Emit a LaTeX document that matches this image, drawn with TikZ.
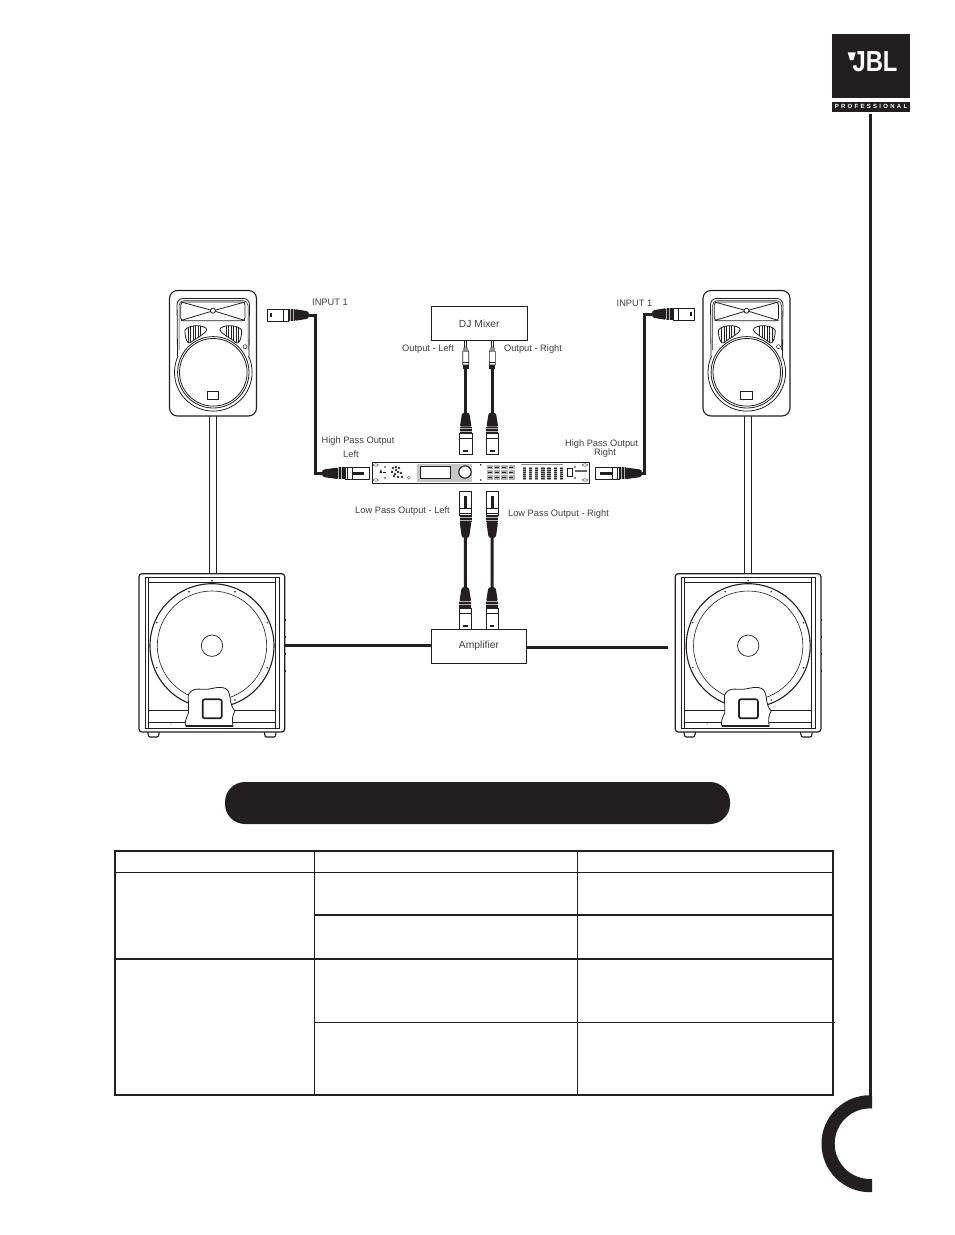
\documentclass[tikz,border=0pt]{standalone}
\usepackage{fontspec}
\setmainfont{Liberation Sans}
\definecolor{ink}{HTML}{231F20}
\definecolor{txt}{HTML}{404040}
\tikzset{
  x=1pt,y=-1pt,
  lbl/.style={font=\fontsize{9.3}{11}\selectfont,text=txt,inner sep=0pt,align=center},
  boxnode/.style={draw=ink,line width=1pt,fill=white,minimum width=95.5pt,minimum height=34pt,inner sep=0pt,font=\fontsize{10.3}{12}\selectfont,text=txt},
  cable/.style={draw=ink,line width=3pt},
  thin1/.style={draw=ink,line width=.8pt},
  rule/.style={draw=ink,line width=1.2pt},
  ruleb/.style={draw=ink,line width=2pt},
  grille/.pic={
    \def\grl{plot[smooth cycle,tension=.7] coordinates {(185,333.3) (186.7,328.3) (195,325.7) (203.3,326.7) (206.7,330) (201.7,335) (195,339.3) (188.3,342.7)}}
    \draw[thin1] \grl;
    \begin{scope}
      \clip \grl;
      \foreach \g in {188,190.5,193,195.5,198,200.5}{\draw[ink,line width=.8pt] (\g,324)--(\g,344);}
    \end{scope}
  },
  topbox/.pic={
    \draw[ink,line width=1.1pt,fill=white,rounded corners=8pt] (169.5,290.5) rectangle (256.5,416);
    \draw[thin1,rounded corners=6pt] (177.5,356)--(177,298.5)--(249.5,298.5)--(249,356);
    \draw[ink,line width=.5pt,rounded corners=5pt] (179,350)--(179,300.5)--(248,300.5)--(248,350);
    \draw[thin1,rounded corners=3pt] (180.7,302) rectangle (245,320.7);
    \draw[thin1] (181,302)--(213.3,310.7)--(245,302) (181,320.5)--(213.3,310.7)--(245,320.5);
    \draw[thin1,fill=white] (213,310.7) circle[radius=2.5];
    \path (0,0) pic {grille};
    \path (426.6,0) pic[xscale=-1] {grille};
    \begin{scope}
      \clip (170,356) rectangle (256,416);
      \draw[thin1] (213.3,372.3) circle[radius=38.8];
    \end{scope}
    \draw[thin1,fill=white] (213.3,372.3) circle[radius=35.7];
    \draw[thin1] (213.3,372.3) circle[radius=33.8];
    \draw[ink,line width=.8pt] (207.3,391) rectangle (218.7,399.3);
    \draw[ink,line width=.5pt] (245,346.7) circle[radius=2];
  },
  sub/.pic={
    \draw[ink,line width=1.1pt,fill=white] (147.7,732) -- (148.5,736) -- (150,737) -- (157,737) -- (158.5,736) -- (159.3,732);
    \draw[ink,line width=1.1pt,fill=white] (264.3,732) -- (265,736) -- (266.5,737) -- (274,737) -- (275.5,736) -- (276,732);
    \draw[ink,line width=1.2pt,fill=white,rounded corners=3pt] (139,573.7) rectangle (284.7,732);
    \draw[thin1] (145,577) rectangle (279.3,728);
    \draw[thin1] (148.3,577)--(148.3,728) (275.3,577)--(275.3,728);
    \draw[thin1] (148.3,582.3)--(275.3,582.3) (148.3,722.3)--(275.3,722.3);
    \draw[ink,line width=.9pt] (148.3,710)--(275.3,710);
    \draw[ink,line width=1.1pt] (212,645.7) circle[radius=62];
    \draw[ink,line width=.6pt] (212,645.7) circle[radius=54.7];
    \draw[ink,line width=.7pt] (212,645.7) circle[radius=10.7];
    \foreach \sx/\sy in {212/580.7,189/591.7,235/591.7,156.7/622.7,267.3/622.7,156.7/667.7,267.3/667.7,235/700}{
      \fill[ink] (\sx,\sy) circle[radius=.8];}
    \foreach \sy in {620,637.3,654.3,671}{\fill[ink] (285,\sy-1) rectangle (286,\sy+1);}
    \fill[ink] (171,724) circle[radius=.5];
    \draw[ink,line width=.8pt,fill=white] (188.3,695) .. controls (192,688) and (197,689) .. (203,689.3) .. controls (210,690) and (216,686.5) .. (222,687.5) .. controls (228,688) and (229,692) .. (230,697) .. controls (230.5,703) and (232,708) .. (235,711) .. controls (232,716) and (232,720) .. (233,726.3) -- (186,726.3) .. controls (184,724) and (186,718) .. (188.5,713) .. controls (189,708) and (188,700) .. (188.3,695) -- cycle;
    \draw[ink,line width=1.7pt,fill=white,rounded corners=2pt] (202.7,699.3) rectangle (221.7,718.3);
    \draw[ink,line width=1.7pt] (186,726.3)--(233,726.3);
  },
  xlrm/.pic={
    \fill[ink,rounded corners=1pt] (0,-2) -- (1.5,-3.8) -- (14,-5.8) -- (14,5.8) -- (1.5,3.8) -- (0,2) -- cycle;
    \fill[black!30] (14,-6) rectangle (21,6);
    \foreach \g in {14.8,16.3,17.8,19.3,20.5}{\draw[ink,line width=.45pt] (\g,-6)--(\g,6);}
    \draw[ink,line width=.6pt,fill=white] (21,-6.2) rectangle (26,6.2);
    \draw[ink,line width=.6pt,fill=white] (26,-6.2) rectangle (42,6.2);
    \fill[ink] (37.5,-2.3) rectangle (39.5,2.3);
  },
  xlrf/.pic={
    \fill[ink,rounded corners=1pt] (0,-2) -- (1.5,-3.8) -- (16,-5.8) -- (16,5.8) -- (1.5,3.8) -- (0,2) -- cycle;
    \fill[black!30] (16,-6) rectangle (23,6);
    \foreach \g in {16.8,18.3,19.8,21.3,22.5}{\draw[ink,line width=.45pt] (\g,-6)--(\g,6);}
    \draw[ink,line width=.6pt,fill=white] (23,-6.2) rectangle (47,6.2);
    \draw[ink,line width=.6pt] (25,-6.2)--(25,6.2) (30,-6.2)--(30,6.2);
    \fill[ink] (30,-1.3) rectangle (42,1.3);
  },
  rca/.pic={
    \draw[ink,line width=.5pt] (-1,-9) -- (-1,-3) (1,-9) -- (1,-3);
    \draw[ink,line width=.6pt,fill=white] (-1,-3) -- (-3,1.7) -- (-3,15) -- (3,15) -- (3,1.7) -- (1,-3) -- cycle;
    \fill[black!45] (-2.5,-2) rectangle (2.5,1.7);
    \draw[ink,line width=.5pt] (-3,12.7)--(3,12.7);
    \fill[ink] (-3,15) rectangle (3,19.3);
  },
}
\begin{document}
\begin{tikzpicture}
\useasboundingbox (0,0) rectangle (954,1235);
\fill[white] (0,0) rectangle (954,1235);

% brand column
\fill[ink] (832,34) rectangle (910,97.7);
\fill[ink] (832,101.7) rectangle (910,111.7);
\node[inner sep=0pt,text=white,xscale=.82] (brand) at (875,62) {\fontsize{29}{30}\selectfont\bfseries JBL};
\fill[white] (847.7,52.3) -- (855.7,52.3) -- (853.5,60) -- (850,60) -- cycle;
\node[inner sep=0pt,text=white] (prof) at (871,106.7) {\fontsize{6}{7}\selectfont\bfseries\addfontfeatures{LetterSpace=38}PROFESSIONAL};
\fill[ink] (869,114) rectangle (872,1096);
\begin{scope}
  \clip (810,1090) rectangle (872,1200);
  \draw[ink,line width=13.2pt] (870,1143.7) circle[radius=41.9];
\end{scope}

% poles
\draw[thin1] (209.3,416)--(209.3,574) (216.7,416)--(216.7,574);
\draw[thin1] (744,416)--(744,574) (751,416)--(751,574);

% loudspeakers
\path (0,0) pic {topbox};
\path (533.5,0) pic {topbox};
\path (0,0) pic {sub};
\path (536.2,0) pic {sub};

% boxes
\node[boxnode] (mixer) at (479.3,323.7) {DJ Mixer};
\node[boxnode] (amp) at (479,646.3) {Amplifier};

% connector anchors
\coordinate (inL) at (309,315);
\coordinate (inLb) at (315.3,315);
\coordinate (hpLb) at (315.3,473.3);
\coordinate (hpL) at (322,473.3);
\coordinate (inR) at (652,314);
\coordinate (inRb) at (644.3,314);
\coordinate (hpRb) at (644.3,473.3);
\coordinate (hpR) at (642,473.3);
\coordinate (rcaL) at (465.7,350);
\coordinate (rcaR) at (492.3,350);
\coordinate (miL) at (465.7,412.5);
\coordinate (miR) at (492.3,412.5);
\coordinate (lpL) at (465.5,538);
\coordinate (lpR) at (492.2,538);
\coordinate (amL) at (465.3,587);
\coordinate (amR) at (492,587);
\coordinate (subL) at (285,645.3);
\coordinate (subR) at (668,647.3);

% cables
\draw[cable] (inL)--(inLb)--(hpLb)--(hpL);
\draw[cable] (inR)--(inRb)--(hpRb)--(hpR);
\draw[cable] (rcaL)--(miL);
\draw[cable] (rcaR)--(miR);
\draw[cable] (lpL)--(amL);
\draw[cable] (lpR)--(amR);
\draw[cable] (subL)--(amp.west |- subL);
\draw[cable] (amp.east |- subR)--(subR);

% plugs
\pic[rotate=180] at (inL) {xlrm};
\pic at (inR) {xlrm};
\pic at (hpL) {xlrf};
\pic[rotate=180] at (hpR) {xlrf};
\pic at (rcaL) {rca};
\pic at (rcaR) {rca};
\pic[rotate=-90] at (miL) {xlrm};
\pic[rotate=-90] at (miR) {xlrm};
\pic[rotate=90] at (lpL) {xlrf};
\pic[rotate=90] at (lpR) {xlrf};
\pic[rotate=-90] at (amL) {xlrm};
\pic[rotate=-90] at (amR) {xlrm};

% rack processor
\draw[ink,line width=1.3pt,fill=white] (372.3,462.3) rectangle (589.3,483.3);
\foreach \ex in {375.7,585}{\foreach \ey in {465,480}{\draw[ink,line width=.4pt] (\ex,\ey) ellipse[x radius=2.6,y radius=1.2];}}
\foreach \dx/\dy in {385/467,385/478,480.7/464.8,480.7/480,575/467,575/478}{\fill[ink] (\dx,\dy) circle[radius=.9];}
\fill[ink] (379.5,473) -- (381,469) -- (382,473) -- cycle;
\fill[ink] (382.5,473) rectangle (385.5,471.5);
\foreach \dx/\dy in {393/468,396/470,399/468,392/472,395/474,398/472,401/473,394/476,398/477,402/477,396/467}{\draw[ink,line width=.5pt] (\dx,\dy) circle[radius=1];}
\draw[black!50,line width=.5pt] (408.7,477.7) circle[radius=1.5];
\fill[black!22] (416.7,463.5) rectangle (472,481.5);
\draw[ink,line width=.7pt,fill=white] (420.7,466.7) rectangle (450,478.3);
\draw[ink,line width=1.1pt,fill=white] (465,472) circle[radius=6.2];
\foreach \bc in {0,1,2,3}{\foreach \br in {0,1,2}{
  \fill[black!30] (486.7+\bc*7.3,464.8+\br*5.2) rectangle +(6.3,4.3);
  \draw[ink,line width=.5pt] (487.5+\bc*7.3,466.8+\br*5.2)--+(4,0);}}
\draw[black!45,line width=.8pt] (520.7,464.5)--(563.3,464.5);
\foreach \fc in {0,...,6}{
  \fill[black!40] (523+\fc*6.1,466.7) rectangle +(3.2,13.3);
  \foreach \fr in {0,...,5}{\fill[black!80] (523+\fc*6.1,467.5+\fr*2.1) rectangle +(3.2,.8);}}
\draw[ink,line width=.9pt] (567.3,468.3) rectangle (572.3,476.7);
\fill[black!60] (575,470.2) rectangle (586.7,471.5);

% labels
\node[lbl] (t1) at (330,302) {INPUT 1};
\node[lbl] (t2) at (634.5,303) {INPUT 1};
\node[lbl] (t3) at (428,349.5) {Output - Left};
\node[lbl] (t4) at (533,349.5) {Output - Right};
\node[lbl] (t5) at (358,441.5) {High Pass Output};
\node[lbl] (t6) at (351,454) {Left};
\node[lbl] (t7) at (601.5,444) {High Pass Output};
\node[lbl] (t8) at (605,453.5) {Right};
\node[lbl] (t9) at (402.5,511) {Low Pass Output - Left};
\node[lbl] (t10) at (558.5,514.5) {Low Pass Output - Right};

% title bar
\fill[ink,rounded corners=20pt] (225,782) rectangle (730,824);

% table
\draw[ruleb] (114,851)--(834,851);
\draw[rule] (114,872.3)--(833,872.3);
\draw[ruleb] (314.7,915)--(833,915);
\draw[ruleb] (114,958.8)--(833,958.8);
\draw[rule] (314.7,1022.4)--(835,1022.4);
\draw[ruleb] (114,1094.5)--(834,1094.5);
\draw[ruleb] (114.5,850)--(114.5,1095.5);
\draw[rule] (314.7,850)--(314.7,1095.5);
\draw[rule] (577.5,850)--(577.5,1095.5);
\draw[ruleb] (833,850)--(833,1095.5);
\end{tikzpicture}
\end{document}
